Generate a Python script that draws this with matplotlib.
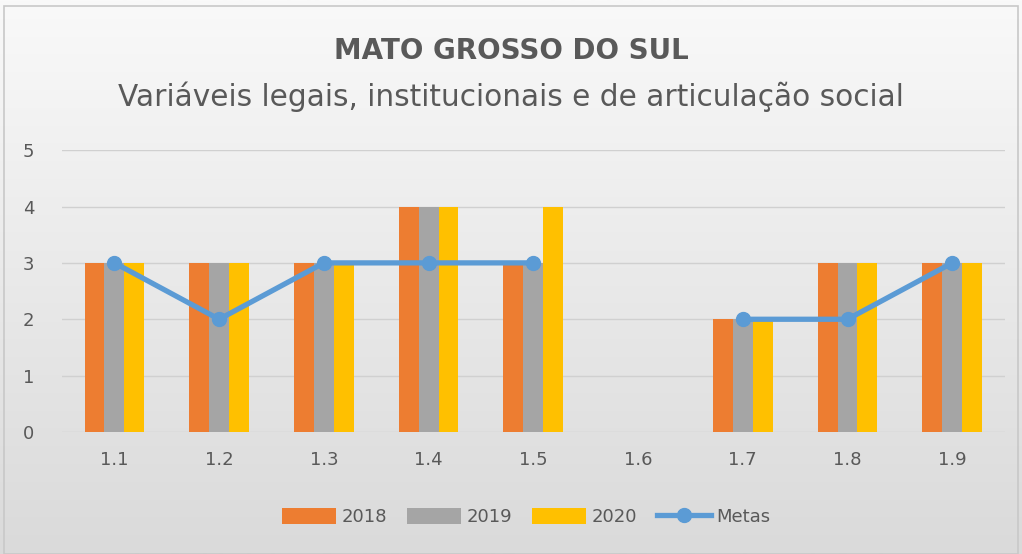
import numpy as np
import matplotlib
matplotlib.use("Agg")
import matplotlib.pyplot as plt
from matplotlib.patches import Rectangle

# Dados
categorias = ['1.1', '1.2', '1.3', '1.4', '1.5', '1.6', '1.7', '1.8', '1.9']
v2018 = [3, 3, 3, 4, 3, np.nan, 2, 3, 3]
v2019 = [3, 3, 3, 4, 3, np.nan, 2, 3, 3]
v2020 = [3, 3, 3, 4, 4, np.nan, 2, 3, 3]
metas = [3, 2, 3, 3, 3, np.nan, 2, 2, 3]

cor_texto = '#595959'

fig = plt.figure(figsize=(10.22, 5.54), dpi=100)

# fundo em degradê
bg = fig.add_axes([0, 0, 1, 1], zorder=-10)
grad = np.linspace(0, 1, 256).reshape(-1, 1)
bg.imshow(grad, aspect='auto', cmap=matplotlib.colors.LinearSegmentedColormap.from_list(
    'g', ['#F9F9F9', '#DADADA']), extent=[0, 1, 0, 1], origin='upper')
bg.add_patch(Rectangle((0.004, 0.0), 0.992, 0.99, fill=False, edgecolor='#C8C8C8', lw=1.2,
                       transform=bg.transAxes))
bg.set_xlim(0, 1)
bg.set_ylim(0, 1)
bg.axis('off')

ax = fig.add_axes([0.0607, 0.2202, 0.9223, 0.5088])
ax.set_facecolor('none')

x = np.arange(len(categorias))
w = 0.19
b1 = ax.bar(x - w, v2018, w, color='#ED7D31', label='2018', zorder=2)
b2 = ax.bar(x, v2019, w, color='#A5A5A5', label='2019', zorder=2)
b3 = ax.bar(x + w, v2020, w, color='#FFC000', label='2020', zorder=2)
l1, = ax.plot(x, metas, color='#5B9BD5', lw=3.8, marker='o', markersize=10, label='Metas', zorder=3)

ax.set_xlim(-0.5, len(categorias) - 0.5)
ax.set_ylim(0, 5)
ax.set_yticks(range(6))
ax.set_xticks(x)
ax.set_xticklabels(categorias)
ax.grid(axis='y', color='#D0D0D0', lw=1, zorder=0)
ax.tick_params(length=0, labelsize=13, colors=cor_texto)
ax.tick_params(axis='x', pad=14)
ax.tick_params(axis='y', pad=20)
for s in ax.spines.values():
    s.set_visible(False)

fig.text(0.5, 0.908, 'MATO GROSSO DO SUL', ha='center', va='center', fontsize=20,
         fontweight='bold', color=cor_texto)
fig.text(0.5, 0.825, 'Variáveis legais, institucionais e de articulação social', ha='center',
         va='center', fontsize=21.3, color=cor_texto)

fig.legend(handles=[b1, b2, b3, l1], loc='center', bbox_to_anchor=(0.515, 0.067), ncol=4,
           frameon=False, fontsize=13, handlelength=3.0, handleheight=1.0,
           columnspacing=1.1, handletextpad=0.3, labelcolor=cor_texto)

fig.savefig('out.png', dpi=100)
